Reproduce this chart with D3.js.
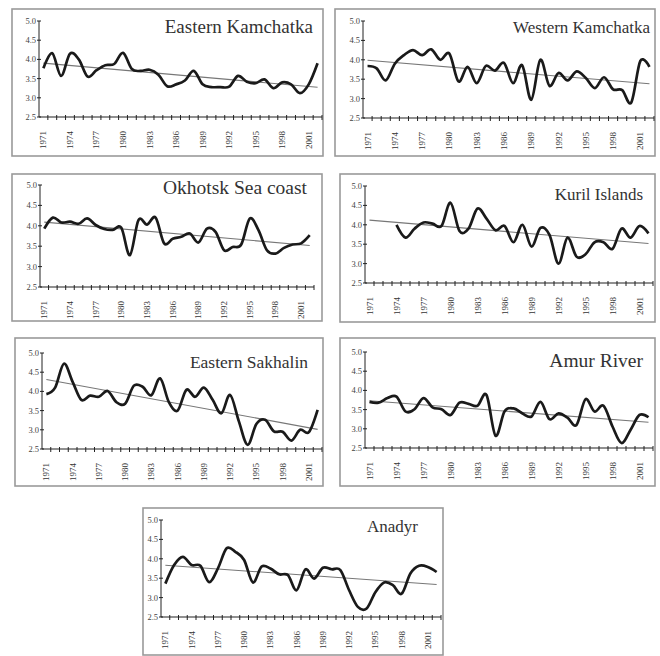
<!DOCTYPE html>
<html>
<head>
<meta charset="utf-8">
<script src="https://cdn.jsdelivr.net/npm/d3@7"></script>
<style>
  body { margin: 0; background: #fff; }
  svg { display: block; }
  svg text { font-family: "Liberation Serif", "DejaVu Serif", serif; }
</style>
</head>
<body>
<script>

// years on the category axis, labels every third year
var years = d3.range(1971, 2003);
var yTicks = [2.5, 3.0, 3.5, 4.0, 4.5, 5.0];

// values, one per year 1971..2002
var eastKamchatka = [3.77, 4.16, 3.57, 4.15, 4.0, 3.55, 3.72, 3.85, 3.88, 4.17, 3.75, 3.7, 3.73, 3.6, 3.3, 3.35,
  3.45, 3.7, 3.35, 3.28, 3.28, 3.29, 3.57, 3.42, 3.38, 3.48, 3.25, 3.4, 3.35, 3.12, 3.35, 3.9];
var westKamchatka = [3.84, 3.78, 3.47, 3.9, 4.12, 4.25, 4.12, 4.27, 4.0, 4.16, 3.44, 3.82, 3.4, 3.84, 3.72, 3.92,
  3.4, 3.86, 2.97, 4.0, 3.33, 3.66, 3.47, 3.7, 3.53, 3.27, 3.55, 3.24, 3.22, 2.9, 3.97, 3.82];
var okhotsk = [3.93, 4.2, 4.08, 4.1, 4.05, 4.18, 4.02, 3.92, 3.9, 3.95, 3.28, 4.14, 4.03, 4.2, 3.57, 3.68,
  3.73, 3.81, 3.59, 3.93, 3.85, 3.4, 3.48, 3.54, 4.18, 3.9, 3.4, 3.32, 3.46, 3.54, 3.57, 3.77];
var kuril = [null, null, null, 4.0, 3.67, 3.9, 4.06, 4.03, 3.97, 4.57, 3.84, 3.9, 4.42, 4.16, 3.86, 3.97,
  3.55, 4.0, 3.44, 3.92, 3.74, 3.0, 3.67, 3.18, 3.24, 3.55, 3.55, 3.38, 3.9, 3.67, 3.97, 3.78];
var eastSakhalin = [3.93, 4.1, 4.72, 4.25, 3.78, 3.89, 3.86, 4.01, 3.72, 3.68, 4.15, 4.12, 3.9, 4.34, 3.72, 3.5,
  4.04, 3.86, 4.1, 3.78, 3.43, 3.91, 3.22, 2.61, 3.15, 3.26, 2.96, 2.95, 2.72, 3.0, 2.94, 3.52];
var amur = [3.7, 3.68, 3.8, 3.84, 3.45, 3.51, 3.8, 3.56, 3.51, 3.36, 3.68, 3.65, 3.6, 3.88, 2.82, 3.45,
  3.53, 3.4, 3.32, 3.7, 3.25, 3.4, 3.29, 3.1, 3.77, 3.45, 3.6, 3.06, 2.63, 2.97, 3.36, 3.3];
var anadyr = [3.36, 3.84, 4.05, 3.84, 3.82, 3.4, 3.75, 4.27, 4.18, 3.97, 3.39, 3.8, 3.75, 3.6, 3.58, 3.19,
  3.73, 3.49, 3.77, 3.73, 3.71, 3.19, 2.76, 2.72, 3.14, 3.39, 3.32, 3.1, 3.62, 3.82, 3.79, 3.66];

var names = ["Eastern Kamchatka", "Western Kamchatka", "Okhotsk Sea coast", "Kuril Islands",
  "Eastern Sakhalin", "Amur River", "Anadyr"];
var series = [eastKamchatka, westKamchatka, okhotsk, kuril, eastSakhalin, amur, anadyr];

// where each small panel sits: frame box, plot area (x0, y of 5.0, x1, y of 2.5), title anchor + size
var layout = [
  {box: [12, 9, 323, 156],   plot: [39, 21, 322, 117],   title: [313, 33, 19]},
  {box: [335, 9, 655, 156],  plot: [363, 21, 654, 118],  title: [650, 33, 17]},
  {box: [12, 174, 322, 321], plot: [40, 185, 314, 287],  title: [307, 194, 19.5]},
  {box: [340, 174, 655, 322], plot: [365, 186, 653, 283], title: [643, 200, 17]},
  {box: [15, 338, 323, 486], plot: [42, 353, 322, 449],  title: [308, 368, 17.5]},
  {box: [340, 338, 655, 486], plot: [365, 352, 653, 448], title: [643, 367, 19.5]},
  {box: [143, 508, 443, 655], plot: [161, 520, 441, 617], title: [418, 532, 17]}
];

var W = 660, H = 656;

var svg = d3.select("body").append("svg")
  .attr("width", W)
  .attr("height", H);

svg.append("rect")
  .attr("x", 0).attr("y", 0).attr("width", W).attr("height", H)
  .style("fill", "#fff");

// least squares line over the years that have a value
var fitTrend = function(vals) {
  var pts = [];
  vals.forEach(function(v, i) { if (v != null) pts.push([i, v]); });
  var mx = d3.mean(pts, function(p) { return p[0]; });
  var my = d3.mean(pts, function(p) { return p[1]; });
  var sxy = d3.sum(pts, function(p) { return (p[0] - mx) * (p[1] - my); });
  var sxx = d3.sum(pts, function(p) { return (p[0] - mx) * (p[0] - mx); });
  var b = sxy / sxx;
  return function(i) { return my + b * (i - mx); };
};

var drawPanel = function(k) {
  var L = layout[k];
  var vals = series[k];
  var g = svg.append("g").attr("class", "panel p" + k);

  // frame
  g.append("rect")
    .attr("x", L.box[0]).attr("y", L.box[1])
    .attr("width", L.box[2] - L.box[0]).attr("height", L.box[3] - L.box[1])
    .style("fill", "none").style("stroke", "#9a9a9a").style("stroke-width", 1.6);

  var x = d3.scaleBand().domain(years).range([L.plot[0], L.plot[2]]);
  var y = d3.scaleLinear().domain([2.5, 5.0]).range([L.plot[3], L.plot[1]]);
  var cx = function(yr) { return x(yr) + x.bandwidth() / 2; };

  // y axis, ticks cross the line
  g.append("line")
    .attr("x1", L.plot[0]).attr("x2", L.plot[0])
    .attr("y1", y(5.0)).attr("y2", y(2.5))
    .style("stroke", "#222").style("stroke-width", 1);
  g.selectAll(".ytick").data(yTicks).enter().append("line")
    .attr("x1", L.plot[0] - 2).attr("x2", L.plot[0] + 2)
    .attr("y1", function(d) { return y(d); }).attr("y2", function(d) { return y(d); })
    .style("stroke", "#222").style("stroke-width", 1);
  g.selectAll(".ylab").data(yTicks).enter().append("text")
    .attr("x", L.plot[0] - 3)
    .attr("y", function(d) { return y(d); })
    .attr("dy", "0.35em")
    .attr("text-anchor", "end")
    .style("font-size", "8.5px").style("fill", "#444")
    .text(function(d) { return d.toFixed(1); });

  // x axis at 2.5, a tick between every year
  g.append("line")
    .attr("x1", L.plot[0]).attr("x2", L.plot[2])
    .attr("y1", y(2.5)).attr("y2", y(2.5))
    .style("stroke", "#222").style("stroke-width", 1.2);
  var bounds = years.map(function(yr) { return x(yr); }).concat([L.plot[2]]);
  g.selectAll(".xtick").data(bounds.slice(1)).enter().append("line")
    .attr("x1", function(d) { return d; }).attr("x2", function(d) { return d; })
    .attr("y1", y(2.5) - 2).attr("y2", y(2.5) + 3)
    .style("stroke", "#222").style("stroke-width", 1);
  g.selectAll(".xlab").data(years.filter(function(yr, i) { return i % 3 === 0; })).enter().append("text")
    .attr("transform", function(d) { return "translate(" + (cx(d) + 3) + "," + (y(2.5) + 14) + ") rotate(-90)"; })
    .attr("text-anchor", "end")
    .style("font-size", "9px").style("fill", "#333")
    .text(function(d) { return d; });

  // thin trend line over the whole axis
  var trend = fitTrend(vals);
  g.append("line")
    .attr("x1", cx(years[0])).attr("x2", cx(years[years.length - 1]))
    .attr("y1", y(trend(0))).attr("y2", y(trend(years.length - 1)))
    .style("stroke", "#777").style("stroke-width", 1.1);

  // smoothed data line
  var line = d3.line()
    .defined(function(d) { return d != null; })
    .x(function(d, i) { return cx(years[i]); })
    .y(function(d) { return y(d); })
    .curve(d3.curveCardinal);
  g.append("path")
    .datum(vals)
    .attr("d", line)
    .style("fill", "none").style("stroke", "#1a1a1a").style("stroke-width", 2.7)
    .style("stroke-linejoin", "round");

  // title
  g.append("text")
    .attr("x", L.title[0]).attr("y", L.title[1])
    .attr("text-anchor", "end")
    .style("font-size", L.title[2] + "px").style("fill", "#333")
    .text(names[k]);
};

for (var k = 0; k < series.length; k++) {
  drawPanel(k);
}

</script>
</body>
</html>
